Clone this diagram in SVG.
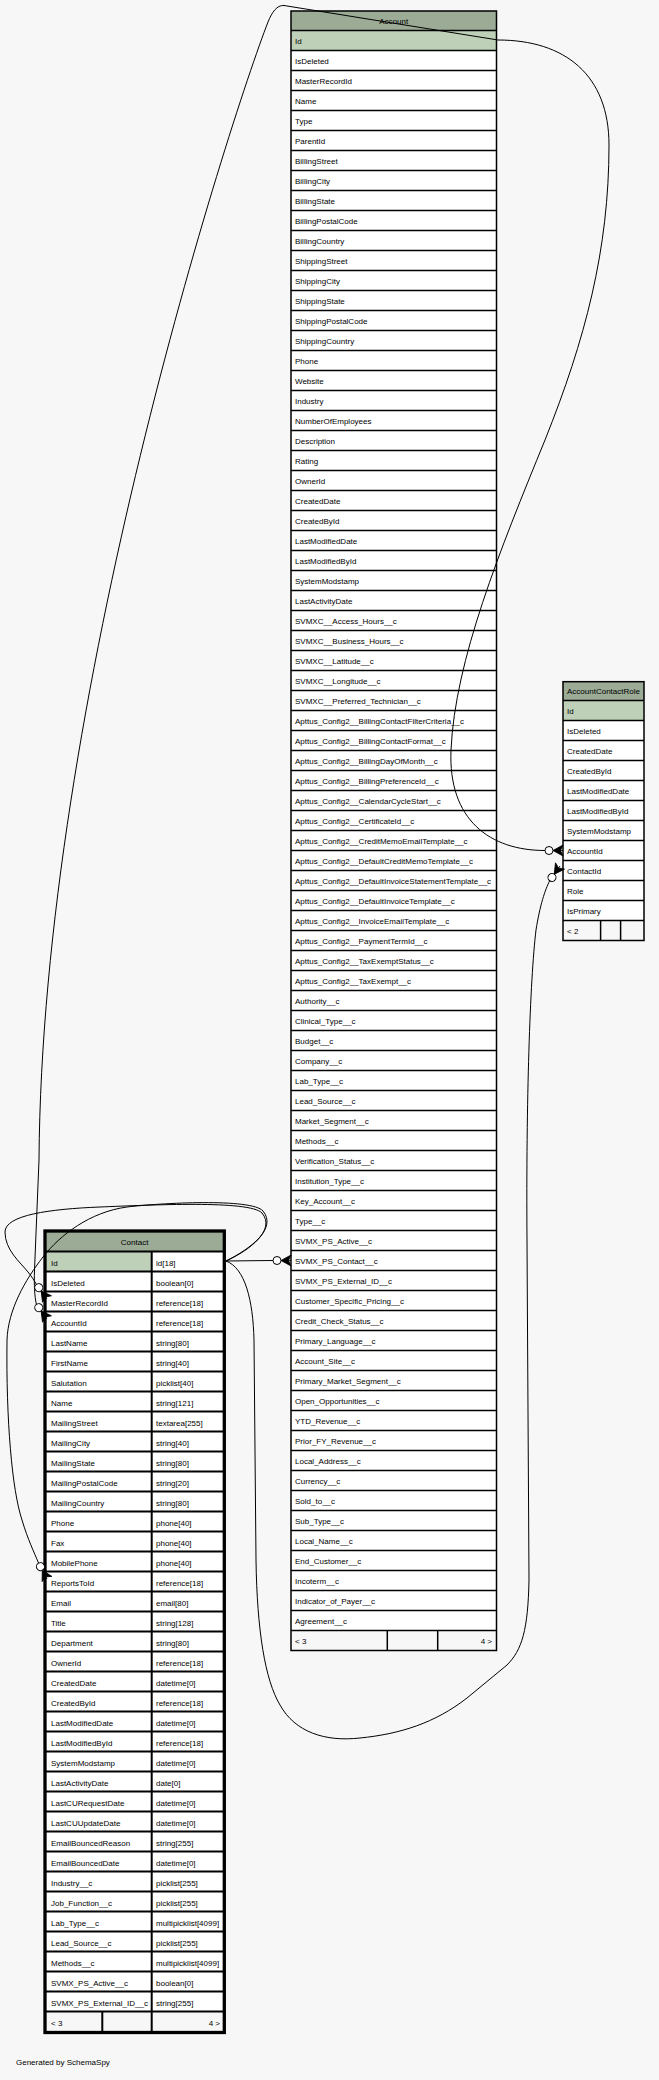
<svg xmlns="http://www.w3.org/2000/svg" xmlns:xlink="http://www.w3.org/1999/xlink" width="659" height="2080" viewBox="0 0 659 2080">
<style>
.t{font-family:"Liberation Sans",Arial,Helvetica,sans-serif;font-size:8px;fill:#000}
.c{text-anchor:middle}
.e{text-anchor:end}
.ln{stroke:#000;stroke-width:1.5;fill:none}
.ln2{stroke:#000;stroke-width:2;fill:none}
.hd{fill:#9bab96}
.pk{fill:#bed1b8}
.ft{fill:#f7f7f7}
.edge{fill:none;stroke:#000;stroke-width:1}
</style>
<defs>
<g id="crow">
<path d="M-10,0 L0,-5.5 L-2.5,0 L0,5.5 Z M-10,0 H0" fill="#000" stroke="#000" stroke-width="0.8" stroke-linejoin="round"/>
<circle cx="-14" cy="0" r="4" fill="#fff" stroke="#000" stroke-width="1"/>
</g>
</defs>
<rect x="0" y="0" width="659" height="2080" fill="#f7f7f7"/>

<g id="Account">
<rect x="291" y="11" width="205.5" height="1639.5" fill="#fff"/>
<rect class="hd" x="291" y="11" width="205.5" height="19.5"/>
<rect class="pk" x="291" y="30.5" width="205.5" height="20"/>
<rect class="ft" x="291" y="1630.5" width="205.5" height="20"/>
<path class="ln" d="M291,30.5H496.5M291,50.5H496.5M291,70.5H496.5M291,90.5H496.5M291,110.5H496.5M291,130.5H496.5M291,150.5H496.5M291,170.5H496.5M291,190.5H496.5M291,210.5H496.5M291,230.5H496.5M291,250.5H496.5M291,270.5H496.5M291,290.5H496.5M291,310.5H496.5M291,330.5H496.5M291,350.5H496.5M291,370.5H496.5M291,390.5H496.5M291,410.5H496.5M291,430.5H496.5M291,450.5H496.5M291,470.5H496.5M291,490.5H496.5M291,510.5H496.5M291,530.5H496.5M291,550.5H496.5M291,570.5H496.5M291,590.5H496.5M291,610.5H496.5M291,630.5H496.5M291,650.5H496.5M291,670.5H496.5M291,690.5H496.5M291,710.5H496.5M291,730.5H496.5M291,750.5H496.5M291,770.5H496.5M291,790.5H496.5M291,810.5H496.5M291,830.5H496.5M291,850.5H496.5M291,870.5H496.5M291,890.5H496.5M291,910.5H496.5M291,930.5H496.5M291,950.5H496.5M291,970.5H496.5M291,990.5H496.5M291,1010.5H496.5M291,1030.5H496.5M291,1050.5H496.5M291,1070.5H496.5M291,1090.5H496.5M291,1110.5H496.5M291,1130.5H496.5M291,1150.5H496.5M291,1170.5H496.5M291,1190.5H496.5M291,1210.5H496.5M291,1230.5H496.5M291,1250.5H496.5M291,1270.5H496.5M291,1290.5H496.5M291,1310.5H496.5M291,1330.5H496.5M291,1350.5H496.5M291,1370.5H496.5M291,1390.5H496.5M291,1410.5H496.5M291,1430.5H496.5M291,1450.5H496.5M291,1470.5H496.5M291,1490.5H496.5M291,1510.5H496.5M291,1530.5H496.5M291,1550.5H496.5M291,1570.5H496.5M291,1590.5H496.5M291,1610.5H496.5M291,1630.5H496.5M387.3,1630.5V1650.5M437.7,1630.5V1650.5"/>
<rect class="ln" x="291" y="11" width="205.5" height="1639.5"/>
<text class="t c" x="393.7" y="23.5">Account</text>
<text class="t" x="295" y="44">Id</text>
<text class="t" x="295" y="64">IsDeleted</text>
<text class="t" x="295" y="84">MasterRecordId</text>
<text class="t" x="295" y="104">Name</text>
<text class="t" x="295" y="124">Type</text>
<text class="t" x="295" y="144">ParentId</text>
<text class="t" x="295" y="164">BillingStreet</text>
<text class="t" x="295" y="184">BillingCity</text>
<text class="t" x="295" y="204">BillingState</text>
<text class="t" x="295" y="224">BillingPostalCode</text>
<text class="t" x="295" y="244">BillingCountry</text>
<text class="t" x="295" y="264">ShippingStreet</text>
<text class="t" x="295" y="284">ShippingCity</text>
<text class="t" x="295" y="304">ShippingState</text>
<text class="t" x="295" y="324">ShippingPostalCode</text>
<text class="t" x="295" y="344">ShippingCountry</text>
<text class="t" x="295" y="364">Phone</text>
<text class="t" x="295" y="384">Website</text>
<text class="t" x="295" y="404">Industry</text>
<text class="t" x="295" y="424">NumberOfEmployees</text>
<text class="t" x="295" y="444">Description</text>
<text class="t" x="295" y="464">Rating</text>
<text class="t" x="295" y="484">OwnerId</text>
<text class="t" x="295" y="504">CreatedDate</text>
<text class="t" x="295" y="524">CreatedById</text>
<text class="t" x="295" y="544">LastModifiedDate</text>
<text class="t" x="295" y="564">LastModifiedById</text>
<text class="t" x="295" y="584">SystemModstamp</text>
<text class="t" x="295" y="604">LastActivityDate</text>
<text class="t" x="295" y="624">SVMXC__Access_Hours__c</text>
<text class="t" x="295" y="644">SVMXC__Business_Hours__c</text>
<text class="t" x="295" y="664">SVMXC__Latitude__c</text>
<text class="t" x="295" y="684">SVMXC__Longitude__c</text>
<text class="t" x="295" y="704">SVMXC__Preferred_Technician__c</text>
<text class="t" x="295" y="724">Apttus_Config2__BillingContactFilterCriteria__c</text>
<text class="t" x="295" y="744">Apttus_Config2__BillingContactFormat__c</text>
<text class="t" x="295" y="764">Apttus_Config2__BillingDayOfMonth__c</text>
<text class="t" x="295" y="784">Apttus_Config2__BillingPreferenceId__c</text>
<text class="t" x="295" y="804">Apttus_Config2__CalendarCycleStart__c</text>
<text class="t" x="295" y="824">Apttus_Config2__CertificateId__c</text>
<text class="t" x="295" y="844">Apttus_Config2__CreditMemoEmailTemplate__c</text>
<text class="t" x="295" y="864">Apttus_Config2__DefaultCreditMemoTemplate__c</text>
<text class="t" x="295" y="884">Apttus_Config2__DefaultInvoiceStatementTemplate__c</text>
<text class="t" x="295" y="904">Apttus_Config2__DefaultInvoiceTemplate__c</text>
<text class="t" x="295" y="924">Apttus_Config2__InvoiceEmailTemplate__c</text>
<text class="t" x="295" y="944">Apttus_Config2__PaymentTermId__c</text>
<text class="t" x="295" y="964">Apttus_Config2__TaxExemptStatus__c</text>
<text class="t" x="295" y="984">Apttus_Config2__TaxExempt__c</text>
<text class="t" x="295" y="1004">Authority__c</text>
<text class="t" x="295" y="1024">Clinical_Type__c</text>
<text class="t" x="295" y="1044">Budget__c</text>
<text class="t" x="295" y="1064">Company__c</text>
<text class="t" x="295" y="1084">Lab_Type__c</text>
<text class="t" x="295" y="1104">Lead_Source__c</text>
<text class="t" x="295" y="1124">Market_Segment__c</text>
<text class="t" x="295" y="1144">Methods__c</text>
<text class="t" x="295" y="1164">Verification_Status__c</text>
<text class="t" x="295" y="1184">Institution_Type__c</text>
<text class="t" x="295" y="1204">Key_Account__c</text>
<text class="t" x="295" y="1224">Type__c</text>
<text class="t" x="295" y="1244">SVMX_PS_Active__c</text>
<text class="t" x="295" y="1264">SVMX_PS_Contact__c</text>
<text class="t" x="295" y="1284">SVMX_PS_External_ID__c</text>
<text class="t" x="295" y="1304">Customer_Specific_Pricing__c</text>
<text class="t" x="295" y="1324">Credit_Check_Status__c</text>
<text class="t" x="295" y="1344">Primary_Language__c</text>
<text class="t" x="295" y="1364">Account_Site__c</text>
<text class="t" x="295" y="1384">Primary_Market_Segment__c</text>
<text class="t" x="295" y="1404">Open_Opportunities__c</text>
<text class="t" x="295" y="1424">YTD_Revenue__c</text>
<text class="t" x="295" y="1444">Prior_FY_Revenue__c</text>
<text class="t" x="295" y="1464">Local_Address__c</text>
<text class="t" x="295" y="1484">Currency__c</text>
<text class="t" x="295" y="1504">Sold_to__c</text>
<text class="t" x="295" y="1524">Sub_Type__c</text>
<text class="t" x="295" y="1544">Local_Name__c</text>
<text class="t" x="295" y="1564">End_Customer__c</text>
<text class="t" x="295" y="1584">Incoterm__c</text>
<text class="t" x="295" y="1604">Indicator_of_Payer__c</text>
<text class="t" x="295" y="1624">Agreement__c</text>
<text class="t" x="295" y="1644">&lt; 3</text>
<text class="t e" x="492" y="1644">4 &gt;</text>
</g>

<g id="AccountContactRole">
<rect x="563" y="681.7" width="81" height="258.8" fill="#fff"/>
<rect class="hd" x="563" y="681.7" width="81" height="18.8"/>
<rect class="pk" x="563" y="700.5" width="81" height="20"/>
<rect class="ft" x="563" y="920.5" width="81" height="20"/>
<path class="ln" d="M563,700.5H644M563,720.5H644M563,740.5H644M563,760.5H644M563,780.5H644M563,800.5H644M563,820.5H644M563,840.5H644M563,860.5H644M563,880.5H644M563,900.5H644M563,920.5H644M600.6,920.5V940.5M620.6,920.5V940.5"/>
<rect class="ln" x="563" y="681.7" width="81" height="258.8"/>
<text class="t c" x="603.5" y="694">AccountContactRole</text>
<text class="t" x="567" y="714">Id</text>
<text class="t" x="567" y="734">IsDeleted</text>
<text class="t" x="567" y="754">CreatedDate</text>
<text class="t" x="567" y="774">CreatedById</text>
<text class="t" x="567" y="794">LastModifiedDate</text>
<text class="t" x="567" y="814">LastModifiedById</text>
<text class="t" x="567" y="834">SystemModstamp</text>
<text class="t" x="567" y="854">AccountId</text>
<text class="t" x="567" y="874">ContactId</text>
<text class="t" x="567" y="894">Role</text>
<text class="t" x="567" y="914">IsPrimary</text>
<text class="t" x="567" y="934">&lt; 2</text>
</g>

<g id="Contact">
<rect x="45" y="1231" width="179.3" height="801.5" fill="#fff"/>
<rect class="hd" x="45" y="1231" width="179.3" height="20.5"/>
<rect class="pk" x="45" y="1251.5" width="106.7" height="20"/>
<rect class="ft" x="45" y="2011.5" width="179.3" height="21"/>
<path class="ln2" d="M45,1251.5H224.3M45,1271.5H224.3M45,1291.5H224.3M45,1311.5H224.3M45,1331.5H224.3M45,1351.5H224.3M45,1371.5H224.3M45,1391.5H224.3M45,1411.5H224.3M45,1431.5H224.3M45,1451.5H224.3M45,1471.5H224.3M45,1491.5H224.3M45,1511.5H224.3M45,1531.5H224.3M45,1551.5H224.3M45,1571.5H224.3M45,1591.5H224.3M45,1611.5H224.3M45,1631.5H224.3M45,1651.5H224.3M45,1671.5H224.3M45,1691.5H224.3M45,1711.5H224.3M45,1731.5H224.3M45,1751.5H224.3M45,1771.5H224.3M45,1791.5H224.3M45,1811.5H224.3M45,1831.5H224.3M45,1851.5H224.3M45,1871.5H224.3M45,1891.5H224.3M45,1911.5H224.3M45,1931.5H224.3M45,1951.5H224.3M45,1971.5H224.3M45,1991.5H224.3M45,2011.5H224.3M151.7,1251.5V2032.5M102.3,2011.5V2032.5"/>
<rect x="45" y="1231" width="179.3" height="801.5" fill="none" stroke="#000" stroke-width="3.3"/>
<text class="t c" x="134.6" y="1245">Contact</text>
<text class="t" x="51" y="1265.5">Id</text><text class="t" x="156" y="1265.5">id[18]</text>
<text class="t" x="51" y="1285.5">IsDeleted</text><text class="t" x="156" y="1285.5">boolean[0]</text>
<text class="t" x="51" y="1305.5">MasterRecordId</text><text class="t" x="156" y="1305.5">reference[18]</text>
<text class="t" x="51" y="1325.5">AccountId</text><text class="t" x="156" y="1325.5">reference[18]</text>
<text class="t" x="51" y="1345.5">LastName</text><text class="t" x="156" y="1345.5">string[80]</text>
<text class="t" x="51" y="1365.5">FirstName</text><text class="t" x="156" y="1365.5">string[40]</text>
<text class="t" x="51" y="1385.5">Salutation</text><text class="t" x="156" y="1385.5">picklist[40]</text>
<text class="t" x="51" y="1405.5">Name</text><text class="t" x="156" y="1405.5">string[121]</text>
<text class="t" x="51" y="1425.5">MailingStreet</text><text class="t" x="156" y="1425.5">textarea[255]</text>
<text class="t" x="51" y="1445.5">MailingCity</text><text class="t" x="156" y="1445.5">string[40]</text>
<text class="t" x="51" y="1465.5">MailingState</text><text class="t" x="156" y="1465.5">string[80]</text>
<text class="t" x="51" y="1485.5">MailingPostalCode</text><text class="t" x="156" y="1485.5">string[20]</text>
<text class="t" x="51" y="1505.5">MailingCountry</text><text class="t" x="156" y="1505.5">string[80]</text>
<text class="t" x="51" y="1525.5">Phone</text><text class="t" x="156" y="1525.5">phone[40]</text>
<text class="t" x="51" y="1545.5">Fax</text><text class="t" x="156" y="1545.5">phone[40]</text>
<text class="t" x="51" y="1565.5">MobilePhone</text><text class="t" x="156" y="1565.5">phone[40]</text>
<text class="t" x="51" y="1585.5">ReportsToId</text><text class="t" x="156" y="1585.5">reference[18]</text>
<text class="t" x="51" y="1605.5">Email</text><text class="t" x="156" y="1605.5">email[80]</text>
<text class="t" x="51" y="1625.5">Title</text><text class="t" x="156" y="1625.5">string[128]</text>
<text class="t" x="51" y="1645.5">Department</text><text class="t" x="156" y="1645.5">string[80]</text>
<text class="t" x="51" y="1665.5">OwnerId</text><text class="t" x="156" y="1665.5">reference[18]</text>
<text class="t" x="51" y="1685.5">CreatedDate</text><text class="t" x="156" y="1685.5">datetime[0]</text>
<text class="t" x="51" y="1705.5">CreatedById</text><text class="t" x="156" y="1705.5">reference[18]</text>
<text class="t" x="51" y="1725.5">LastModifiedDate</text><text class="t" x="156" y="1725.5">datetime[0]</text>
<text class="t" x="51" y="1745.5">LastModifiedById</text><text class="t" x="156" y="1745.5">reference[18]</text>
<text class="t" x="51" y="1765.5">SystemModstamp</text><text class="t" x="156" y="1765.5">datetime[0]</text>
<text class="t" x="51" y="1785.5">LastActivityDate</text><text class="t" x="156" y="1785.5">date[0]</text>
<text class="t" x="51" y="1805.5">LastCURequestDate</text><text class="t" x="156" y="1805.5">datetime[0]</text>
<text class="t" x="51" y="1825.5">LastCUUpdateDate</text><text class="t" x="156" y="1825.5">datetime[0]</text>
<text class="t" x="51" y="1845.5">EmailBouncedReason</text><text class="t" x="156" y="1845.5">string[255]</text>
<text class="t" x="51" y="1865.5">EmailBouncedDate</text><text class="t" x="156" y="1865.5">datetime[0]</text>
<text class="t" x="51" y="1885.5">Industry__c</text><text class="t" x="156" y="1885.5">picklist[255]</text>
<text class="t" x="51" y="1905.5">Job_Function__c</text><text class="t" x="156" y="1905.5">picklist[255]</text>
<text class="t" x="51" y="1925.5">Lab_Type__c</text><text class="t" x="156" y="1925.5">multipicklist[4099]</text>
<text class="t" x="51" y="1945.5">Lead_Source__c</text><text class="t" x="156" y="1945.5">picklist[255]</text>
<text class="t" x="51" y="1965.5">Methods__c</text><text class="t" x="156" y="1965.5">multipicklist[4099]</text>
<text class="t" x="51" y="1985.5">SVMX_PS_Active__c</text><text class="t" x="156" y="1985.5">boolean[0]</text>
<text class="t" x="51" y="2005.5">SVMX_PS_External_ID__c</text><text class="t" x="156" y="2005.5">string[255]</text>
<text class="t" x="51" y="2025.5">&lt; 3</text>
<text class="t e" x="220" y="2025.5">4 &gt;</text>
</g>

<g id="connectors">
<path class="edge" d="M498,40 C565,40 609,75 609,145 C609,250 585,340 545,440 C500,550 455,660 451,750 C448,820 490,850.5 545,850.5"/>
<use xlink:href="#crow" href="#crow" transform="translate(563,850.5)"/>
<path class="edge" d="M226,1261 C245,1268 253,1300 254,1340 L256,1560 C257,1630 265,1680 280,1705 C295,1732 325,1742 360,1738 C400,1734 435,1723 467,1698 L507,1665 C522,1650 528,1630 529,1580 L527,1240 C526,1100 530,980 536,930 C540,905 545,890 549.7,880.7"/>
<use xlink:href="#crow" href="#crow" transform="translate(560,866) rotate(-55)"/>
<path class="edge" d="M498,40 L284,5.5 C277,5 272,12 268,22 C230,120 42,700 39,1160 L34.5,1270 C34,1285 34.5,1296 36.4,1304.4"/>
<use xlink:href="#crow" href="#crow" transform="translate(47,1319) rotate(54)"/>
<path class="edge" d="M226,1261 L273,1260.5"/>
<use xlink:href="#crow" href="#crow" transform="translate(291,1260.5)"/>
<path class="edge" d="M226,1261 C250,1250 276,1230 262,1213 C250,1200 150,1205 100,1207 C50,1209 5,1215 5,1232 C5,1250 20,1262 28,1272 C32,1277 34.5,1281 36.4,1284.4"/>
<use xlink:href="#crow" href="#crow" transform="translate(47,1299) rotate(54)"/>
<path class="edge" d="M226,1261 C252,1248 277,1228 263,1211 C252,1198 160,1203 127,1207 C90,1212 60,1235 43,1257 C25,1280 8,1310 7,1340 C6,1420 12,1490 22,1520 C28,1540 34,1552 38.6,1563.1"/>
<use xlink:href="#crow" href="#crow" transform="translate(47,1579) rotate(62)"/>
</g>

<text class="t" x="16" y="2065">Generated by SchemaSpy</text>
</svg>
